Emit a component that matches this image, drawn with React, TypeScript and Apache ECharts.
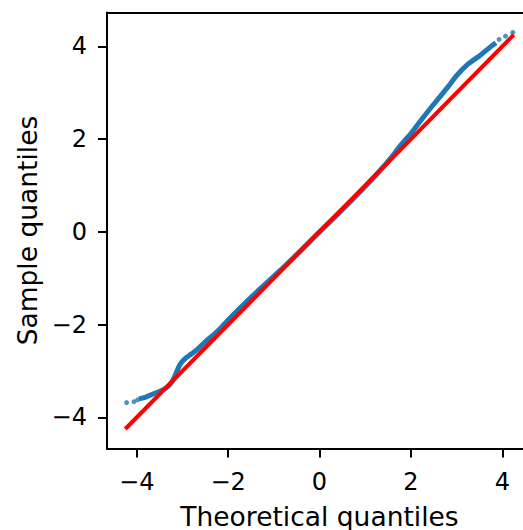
import React, { useEffect, useRef } from "react";
import * as echarts from "echarts";

// Dense part of the Q-Q curve (theoretical quantile, sample quantile)
const theoreticalDense = [
  -3.95, -3.8, -3.63, -3.48, -3.38, -3.28, -3.2, -3.12, -3.04, -2.94, -2.8, -2.68, -2.5, -2.32,
  -2.15, -2.03, -1.74, -1.37, -1.0, -0.5, 0, 0.5, 1.0, 1.33, 1.55, 1.77, 2.0, 2.2, 2.49, 2.79,
  3.01, 3.23, 3.52, 3.74, 3.86,
];
const sampleDense = [
  -3.6, -3.56, -3.49, -3.43, -3.38, -3.3, -3.18, -3.0, -2.84, -2.73, -2.63, -2.54, -2.37, -2.22,
  -2.06, -1.93, -1.64, -1.29, -0.96, -0.49, 0, 0.48, 0.98, 1.33, 1.58, 1.86, 2.12, 2.38, 2.74, 3.1,
  3.38, 3.6, 3.81, 3.99, 4.08,
];
// Sparse tail points
const theoreticalTail = [-4.22, -4.06, -3.98, 3.93, 4.07, 4.23];
const sampleTail = [-3.68, -3.66, -3.62, 4.15, 4.22, 4.3];
// 45-degree reference line end points
const refLineX = [-4.25, 4.25];
const refLineY = [-4.25, 4.25];
// Tick values
const xTicks = [-4, -2, 0, 2, 4];
const yTicks = [-4, -2, 0, 2, 4];

const FONT = "DejaVu Sans";
const fmt = (v: number) => (v < 0 ? "\u2212" + Math.abs(v) : String(v));

export default function App() {
  const ref = useRef<HTMLDivElement>(null);
  useEffect(() => {
    if (!ref.current) return;
    const chart = echarts.init(ref.current, null, { renderer: "svg" });
    const axisCommon = {
      type: "value" as const,
      nameLocation: "middle" as const,
      nameTextStyle: { fontFamily: FONT, fontSize: 26.5, color: "#000" },
      axisLine: { show: true, onZero: false, lineStyle: { color: "#000", width: 2 } },
      axisTick: { show: true, length: 9, lineStyle: { color: "#000", width: 2 } },
      splitLine: { show: false },
    };
    chart.setOption({
      animation: false,
      backgroundColor: "#fff",
      grid: {
        left: 107,
        top: 12.5,
        right: -9,
        bottom: 81.5,
        show: false,
        containLabel: false,
        outerBoundsMode: "none",
      },
      xAxis: [
        {
          ...axisCommon,
          min: -4.65,
          max: 4.65,
          name: "Theoretical quantiles",
          nameGap: 54,
          axisTick: { ...axisCommon.axisTick, customValues: xTicks },
          axisLabel: {
            customValues: xTicks,
            formatter: fmt,
            fontFamily: FONT,
            fontSize: 24,
            color: "#000",
            margin: 21,
          },
        },
        {
          type: "value",
          position: "top",
          min: -4.65,
          max: 4.65,
          axisLine: { show: true, onZero: false, lineStyle: { color: "#000", width: 2 } },
          axisTick: { show: false },
          axisLabel: { show: false },
          splitLine: { show: false },
        },
      ],
      yAxis: {
        ...axisCommon,
        min: -4.67,
        max: 4.73,
        name: "Sample quantiles",
        nameGap: 65,
        axisTick: { ...axisCommon.axisTick, customValues: yTicks },
        axisLabel: {
          customValues: yTicks,
          formatter: fmt,
          fontFamily: FONT,
          fontSize: 24,
          color: "#000",
          margin: 20,
        },
      },
      series: [
        {
          type: "line",
          data: theoreticalDense.map((x, i) => [x, sampleDense[i]]),
          showSymbol: false,
          smooth: 0.3,
          lineStyle: { color: "#1f77b4", width: 5 },
          z: 2,
        },
        {
          type: "scatter",
          data: theoreticalTail.map((x, i) => [x, sampleTail[i]]),
          symbolSize: 5,
          itemStyle: { color: "#1f77b4" },
          z: 2,
        },
        {
          type: "line",
          data: refLineX.map((x, i) => [x, refLineY[i]]),
          showSymbol: false,
          lineStyle: { color: "#ff0000", width: 4 },
          z: 3,
        },
      ],
    });
    return () => chart.dispose();
  }, []);
  return (
    <div
      ref={ref}
      style={{
        position: "absolute",
        left: 0,
        top: 0,
        width: 523,
        height: 530,
        background: "#fff",
      }}
    />
  );
}
